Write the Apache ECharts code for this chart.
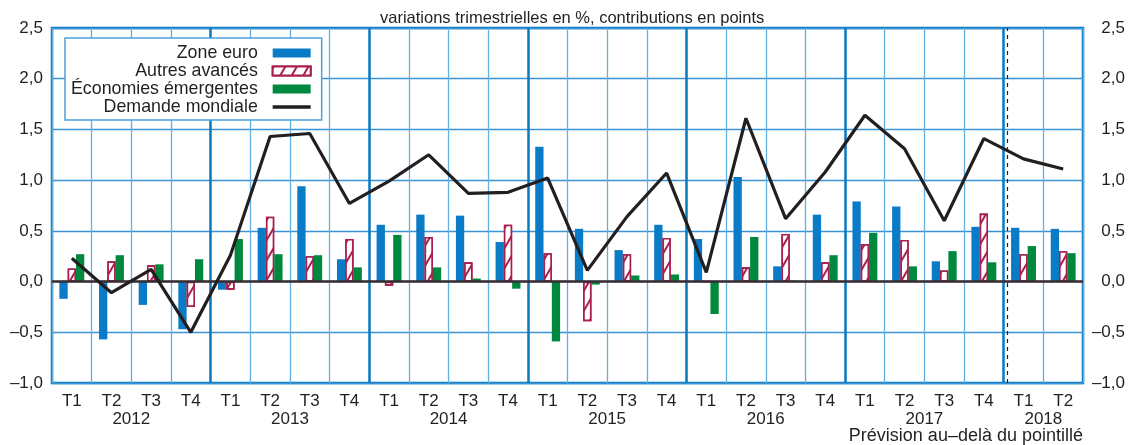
<!DOCTYPE html>
<html>
<head>
<meta charset="utf-8">
<script src="https://cdn.jsdelivr.net/npm/echarts@6/dist/echarts.min.js"></script>
<style>
  html, body { margin: 0; padding: 0; background: #fff; }
  #chart { width: 1128px; height: 445px; }
</style>
</head>
<body>
<div id="chart"></div>
<script>
// trimestres 2012 T1 -> 2018 T2
const quarters = [
    "T1", "T2", "T3", "T4", "T1", "T2", "T3", "T4", "T1", "T2", "T3", "T4",
    "T1", "T2", "T3", "T4", "T1", "T2", "T3", "T4", "T1", "T2", "T3", "T4",
    "T1", "T2"
];
const years = ["2012", "2013", "2014", "2015", "2016", "2017", "2018"];
const quartersPerYear = [4, 4, 4, 4, 4, 4, 2];
const forecastFrom = 24; // prévision au-delà du pointillé

const zoneEuro = [
    -0.17, -0.57, -0.23, -0.47, -0.08, 0.53, 0.94, 0.22, 0.56, 0.66, 0.65, 0.39,
    1.33, 0.52, 0.31, 0.56, 0.42, 1.03, 0.15, 0.66, 0.79, 0.74, 0.20, 0.54,
    0.53, 0.52
];
const autresAvances = [
    0.13, 0.20, 0.16, -0.25, -0.08, 0.64, 0.25, 0.42, -0.04, 0.44, 0.19, 0.56,
    0.28, -0.39, 0.27, 0.43, 0, 0.14, 0.47, 0.19, 0.37, 0.41, 0.11, 0.67,
    0.27, 0.30
];
const emergentes = [
    0.27, 0.26, 0.17, 0.22, 0.42, 0.27, 0.26, 0.14, 0.46, 0.14, 0.03, -0.07,
    -0.59, -0.03, 0.06, 0.07, -0.32, 0.44, 0.01, 0.26, 0.48, 0.15, 0.30, 0.19,
    0.35, 0.28
];
const demandeMondiale = [
    0.23, -0.11, 0.12, -0.50, 0.26, 1.43, 1.46, 0.77, 0.99, 1.25, 0.87, 0.88,
    1.02, 0.11, 0.64, 1.07, 0.09, 1.61, 0.62, 1.08, 1.64, 1.31, 0.60, 1.41,
    1.21, 1.11
];

const ink = "#231f20";
const font = "Liberation Sans, Arial, sans-serif";

// year labels sit on the boundary in the middle of each year's quarters
let boundaryLabels = new Array(quarters.length + 1).fill("");
let yearStarts = [];
let pos = 0;
years.forEach((y, i) => {
    yearStarts.push(pos);
    boundaryLabels[pos + quartersPerYear[i] / 2] = y;
    pos += quartersPerYear[i];
});

const fmt = v => (v < 0 ? "\u2013" : "") + Math.abs(v).toFixed(1).replace(".", ",");

const chart = echarts.init(document.getElementById("chart"), null, { renderer: "canvas" });

const barBase = {
    type: "bar",
    barWidth: 8.3,
    barGap: "0%",
    xAxisIndex: 0,
    yAxisIndex: 0
};

chart.setOption({
    animation: false,
    textStyle: { fontFamily: font, color: ink },
    title: [
        {
            text: "variations trimestrielles en %, contributions en points",
            left: 375,
            top: 5,
            textStyle: { fontFamily: font, fontSize: 16.5, fontWeight: "normal", color: ink }
        },
        {
            text: "Pr\u00e9vision au\u2013del\u00e0 du pointill\u00e9",
            right: 45,
            top: 427,
            padding: 0,
            textStyle: { fontFamily: font, fontSize: 18, fontWeight: "normal", color: ink }
        }
    ],
    grid: {
        left: 52,
        right: 45,
        top: 28,
        bottom: 62,
        show: true,
        borderColor: "#0b7ac3",
        borderWidth: 2.5,
        backgroundColor: "transparent"
    },
    legend: {
        orient: "vertical",
        align: "right",
        left: 65,
        top: 38,
        padding: [6, 10, 4, 6],
        itemGap: 0,
        itemWidth: 38,
        itemHeight: 9,
        symbolKeepAspect: true,
        backgroundColor: "#fff",
        borderColor: "#4aa3df",
        borderWidth: 1.5,
        borderRadius: 0,
        formatter: name => name + "  ",
        textStyle: { fontFamily: font, fontSize: 17.8, lineHeight: 17.2, color: ink },
        data: [
            { name: "Zone euro", icon: "rect" },
            { name: "Autres avancés", icon: "rect" },
            { name: "Économies émergentes", icon: "rect" },
            { name: "Demande mondiale", icon: "path://M0,0L38,0L38,3.4L0,3.4Z", itemStyle: { color: ink } }
        ]
    },
    xAxis: [
        {
            type: "category",
            data: quarters,
            position: "bottom",
            boundaryGap: true,
            axisLine: { show: false, onZero: false },
            axisTick: { show: false },
            axisLabel: { interval: 0, margin: 10, fontSize: 17, color: ink, fontFamily: font },
            splitLine: { show: true, interval: 0, lineStyle: { color: "#62b0e4", width: 1.3 } }
        },
        {
            type: "category",
            data: boundaryLabels,
            position: "bottom",
            boundaryGap: false,
            axisLine: { show: false, onZero: false },
            axisTick: { show: false },
            axisLabel: { interval: 0, margin: 28, fontSize: 17, color: ink, fontFamily: font },
            splitLine: {
                show: true,
                interval: idx => yearStarts.includes(idx) && idx > 0,
                lineStyle: { color: "#0b7ac3", width: 2.5 }
            }
        },
        {
            type: "value",
            min: 0,
            max: quarters.length,
            show: false
        }
    ],
    yAxis: [
        {
            type: "value",
            min: -1,
            max: 2.5,
            interval: 0.5,
            position: "left",
            axisLine: { show: false },
            axisTick: { show: false },
            axisLabel: { formatter: fmt, margin: 9, fontSize: 17, color: ink, fontFamily: font },
            splitLine: { show: true, lineStyle: { color: "#3a93d6", width: 1.3 } }
        },
        {
            type: "value",
            min: -1,
            max: 2.5,
            interval: 0.5,
            position: "right",
            axisLine: { show: false },
            axisTick: { show: false },
            axisLabel: { formatter: fmt, margin: 42, align: "right", fontSize: 17, color: ink, fontFamily: font },
            splitLine: { show: false }
        }
    ],
    series: [
        {
            ...barBase,
            name: "Zone euro",
            data: zoneEuro,
            itemStyle: { color: "#0a7bc6" },
            markLine: {
                silent: true,
                symbol: "none",
                label: { show: false },
                lineStyle: { color: "#3b2c30", width: 2.5, type: "solid" },
                data: [{ yAxis: 0 }]
            }
        },
        {
            ...barBase,
            name: "Autres avancés",
            data: autresAvances,
            itemStyle: {
                color: "#fff",
                borderColor: "#a81e4c",
                borderWidth: 1.6,
                decal: {
                    symbol: "rect",
                    color: "#a81e4c",
                    backgroundColor: "#fff",
                    dashArrayX: [1, 0],
                    dashArrayY: [1.4, 8],
                    rotation: -Math.PI / 3
                }
            }
        },
        {
            ...barBase,
            name: "Économies émergentes",
            data: emergentes,
            itemStyle: { color: "#00883f" }
        },
        {
            type: "line",
            name: "Demande mondiale",
            data: demandeMondiale,
            xAxisIndex: 0,
            yAxisIndex: 0,
            symbol: "none",
            z: 5,
            lineStyle: { color: ink, width: 3.2 },
            itemStyle: { color: ink }
        },
        {
            // pointillé de début de prévision
            type: "line",
            name: "prevision",
            data: [],
            xAxisIndex: 2,
            yAxisIndex: 0,
            markLine: {
                silent: true,
                symbol: "none",
                label: { show: false },
                lineStyle: { color: ink, width: 1.2, type: [4, 4] },
                data: [{ xAxis: forecastFrom + 0.08 }]
            }
        }
    ]
});
</script>
</body>
</html>
